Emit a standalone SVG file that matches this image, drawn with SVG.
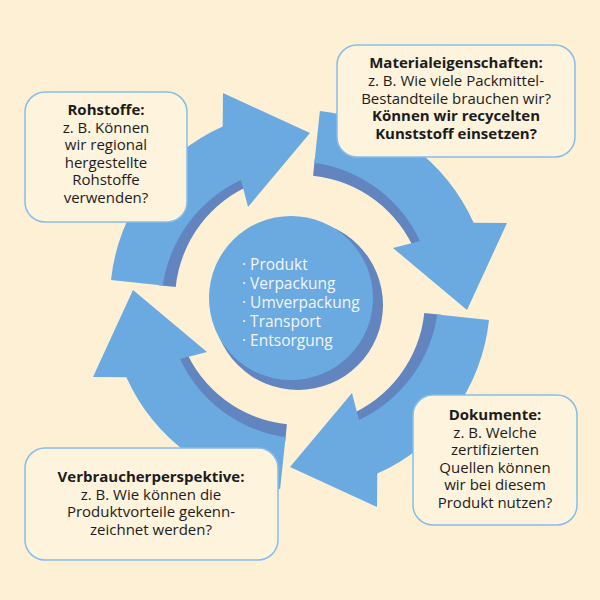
<svg xmlns="http://www.w3.org/2000/svg" width="600" height="600" viewBox="0 0 600 600">
<style>
.arr{fill:#6aaae0}
.band{fill:#6285bf}
.box{fill:#fef3dc;stroke:#86bde9;stroke-width:1.5}
text{font-family:"Open Sans",Lato,sans-serif;font-size:15px;fill:#1c1c1c;text-anchor:middle}
.b{font-weight:700}
.c{fill:#f3f6fb;text-anchor:start;font-size:15.5px}
</style>
<defs>
<g id="arrow">
<path class="band" d="M313.1,175.7 A125,125 0 0 1 415.9,253.2 L431.7,246.9 A142,142 0 0 0 314.8,158.8 Z"/>
<path class="arr" d="M314.4,162.8 L319.9,111 A190,190 0 0 1 473.6,222.7 L507,223 L467,310 L393,248 L420,241 A138,138 0 0 0 314.4,162.8 Z"/>
</g>
</defs>
<rect width="600" height="600" fill="#fdf0d5"/>
<g id="connectors">
<use href="#arrow"/>
<use href="#arrow" transform="rotate(90 300 300)"/>
<use href="#arrow" transform="rotate(180 300 300)"/>
<use href="#arrow" transform="rotate(270 300 300)"/>
</g>
<g id="center">
<circle cx="298" cy="305" r="85" fill="#6285bf"/>
<circle cx="291" cy="298" r="82" fill="#6aaae0"/>
<text class="c" x="242" y="270">· Produkt</text>
<text class="c" x="242" y="289">· Verpackung</text>
<text class="c" x="242" y="308">· Umverpackung</text>
<text class="c" x="242" y="327">· Transport</text>
<text class="c" x="242" y="346">· Entsorgung</text>
</g>
<g id="material">
<rect class="box" x="337" y="45" width="238" height="112" rx="20"/>
<text class="b" x="456" y="68">Materialeigenschaften:</text>
<text x="456" y="86">z. B. Wie viele Packmittel-</text>
<text x="456" y="103.5">Bestandteile brauchen wir?</text>
<text class="b" x="456" y="121">Können wir recycelten</text>
<text class="b" x="456" y="138.5">Kunststoff einsetzen?</text>
</g>
<g id="rohstoffe">
<rect class="box" x="25" y="92" width="162" height="130" rx="20"/>
<text class="b" x="106" y="115">Rohstoffe:</text>
<text x="106" y="132.5">z. B. Können</text>
<text x="106" y="150">wir regional</text>
<text x="106" y="167.5">hergestellte</text>
<text x="106" y="185">Rohstoffe</text>
<text x="106" y="202.5">verwenden?</text>
</g>
<g id="verbraucher">
<rect class="box" x="25" y="448" width="253" height="112" rx="20"/>
<text class="b" x="151" y="482">Verbraucherperspektive:</text>
<text x="151" y="499.5">z. B. Wie können die</text>
<text x="151" y="517">Produktvorteile gekenn-</text>
<text x="151" y="534.5">zeichnet werden?</text>
</g>
<g id="dokumente">
<rect class="box" x="413" y="395" width="164" height="130" rx="20"/>
<text class="b" x="495" y="420">Dokumente:</text>
<text x="495" y="437.5">z. B. Welche</text>
<text x="495" y="455">zertifizierten</text>
<text x="495" y="472.5">Quellen können</text>
<text x="495" y="490">wir bei diesem</text>
<text x="495" y="507.5">Produkt nutzen?</text>
</g>
</svg>
